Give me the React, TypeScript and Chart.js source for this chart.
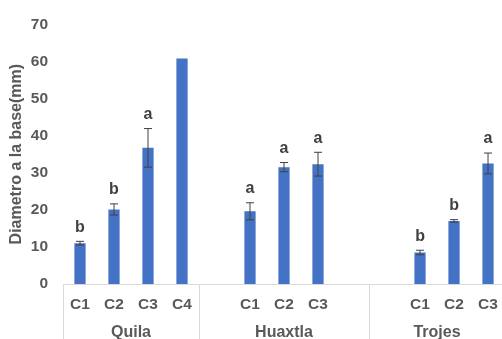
import { useEffect, useRef } from "react";
import { Chart, registerables } from "chart.js";

Chart.register(...registerables);

// Site groups and the number of category slots each one spans on the x axis
const groupNames = ["Quila", "Huaxtla", "Trojes"];
const groupSizes = [4, 5, 4];

// Category (treatment) labels per slot; empty slots are blank cells
const categories = ["C1", "C2", "C3", "C4", "", "C1", "C2", "C3", "", "", "C1", "C2", "C3"];

// Mean base diameter (mm) and its standard error
const means = [11.0, 20.1, 36.7, 60.8, null, 19.6, 31.5, 32.3, null, null, 8.5, 17.0, 32.5];
const errors = [0.5, 1.5, 5.2, 0, 0, 2.3, 1.25, 3.2, 0, 0, 0.6, 0.35, 2.8];

// Significance letters shown above the bars
const letters = ["b", "b", "a", "", "", "a", "a", "a", "", "", "b", "b", "a"];

const yTicks = [0, 10, 20, 30, 40, 50, 60, 70];

const FONT = "'Liberation Sans', Arial, sans-serif";
const TEXT = "#595959";
const DARK = "#404040";
const LINE = "#d9d9d9";

const errorBarsPlugin = {
  id: "errorBarsAndLetters",
  afterDatasetsDraw(chart: any) {
    const { ctx } = chart;
    const y = chart.scales.y;
    const meta = chart.getDatasetMeta(0);
    ctx.save();
    meta.data.forEach((bar: any, i: number) => {
      const v = means[i];
      if (v === null || v === undefined) return;
      const e = errors[i];
      const x = bar.x;
      if (e > 0) {
        const top = y.getPixelForValue(v + e);
        const bot = y.getPixelForValue(v - e);
        ctx.strokeStyle = DARK;
        ctx.lineWidth = 1;
        ctx.beginPath();
        ctx.moveTo(x, top);
        ctx.lineTo(x, bot);
        ctx.moveTo(x - 4, top);
        ctx.lineTo(x + 4, top);
        ctx.moveTo(x - 4, bot);
        ctx.lineTo(x + 4, bot);
        ctx.stroke();
      }
      if (letters[i]) {
        ctx.fillStyle = DARK;
        ctx.font = `bold 16px ${FONT}`;
        ctx.textAlign = "center";
        ctx.textBaseline = "middle";
        ctx.fillText(letters[i], x, y.getPixelForValue(v + e) - 14);
      }
    });
    ctx.restore();
  },
};

const groupAxisPlugin = {
  id: "groupAxis",
  afterDraw(chart: any) {
    const { ctx } = chart;
    const x = chart.scales.x;
    const slot = (x.right - x.left) / categories.length;
    const axisY = chart.chartArea.bottom;
    const bottom = chart.height;
    ctx.save();
    ctx.strokeStyle = LINE;
    ctx.lineWidth = 1;
    let start = 0;
    groupNames.forEach((name, g) => {
      const x0 = x.left + start * slot;
      const x1 = x0 + groupSizes[g] * slot;
      ctx.beginPath();
      ctx.moveTo(Math.round(x0) + 0.5, axisY);
      ctx.lineTo(Math.round(x0) + 0.5, bottom);
      ctx.stroke();
      ctx.fillStyle = TEXT;
      ctx.font = `bold 16px ${FONT}`;
      ctx.textAlign = "center";
      ctx.textBaseline = "middle";
      ctx.fillText(name, (x0 + x1) / 2, axisY + 49);
      start += groupSizes[g];
    });
    ctx.restore();
  },
};

export default function App() {
  const ref = useRef<HTMLCanvasElement | null>(null);

  useEffect(() => {
    if (!ref.current) return;
    const chart = new Chart(ref.current, {
      type: "bar",
      data: {
        labels: categories,
        datasets: [
          {
            data: means as any,
            backgroundColor: "#4472C4",
            borderWidth: 0,
            barPercentage: 0.33,
            categoryPercentage: 1,
          },
        ],
      },
      options: {
        animation: false,
        responsive: true,
        maintainAspectRatio: false,
        layout: { padding: { top: 20, right: 2, left: 0, bottom: 0 } },
        plugins: {
          legend: { display: false },
          tooltip: { enabled: false },
        },
        scales: {
          x: {
            grid: { display: false, drawTicks: false, tickLength: 0 },
            border: { display: true, color: LINE, width: 1 },
            ticks: {
              autoSkip: false,
              maxRotation: 0,
              padding: 11,
              color: TEXT,
              font: { family: FONT, size: 15.5, weight: "bold" },
            },
            afterFit(scale: any) {
              scale.height = 55;
            },
          },
          y: {
            min: 0,
            max: 70,
            grid: { display: false, drawTicks: false, tickLength: 0 },
            border: { display: false },
            afterBuildTicks(scale: any) {
              scale.ticks = yTicks.map((v) => ({ value: v }));
            },
            ticks: {
              padding: 15,
              color: TEXT,
              font: { family: FONT, size: 15.5, weight: "bold" },
            },
            title: {
              display: true,
              text: "Diametro a la base(mm)",
              color: TEXT,
              font: { family: FONT, size: 16, weight: "bold" },
              padding: { top: 7, bottom: 0 },
            },
            afterFit(scale: any) {
              scale.width = 63;
            },
          },
        },
      },
      plugins: [errorBarsPlugin, groupAxisPlugin],
    });
    return () => chart.destroy();
  }, []);

  return (
    <div
      style={{
        position: "absolute",
        left: 0,
        top: 0,
        width: 502,
        height: 339,
        overflow: "hidden",
        background: "#fff",
      }}
    >
      <div style={{ position: "relative", width: 509, height: 339 }}>
        <canvas ref={ref} />
      </div>
    </div>
  );
}
